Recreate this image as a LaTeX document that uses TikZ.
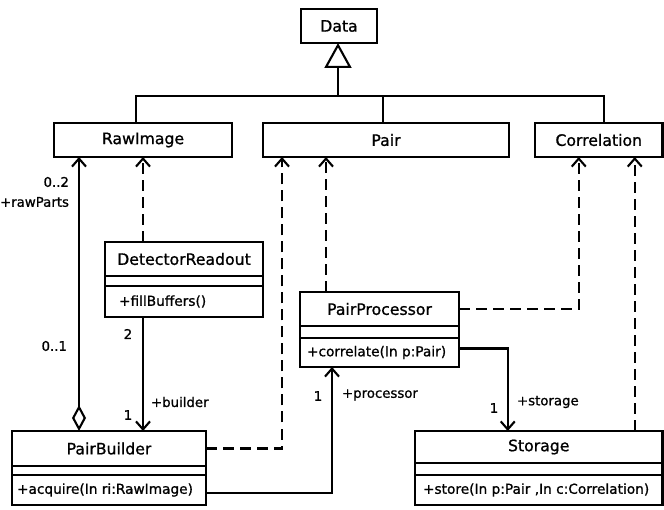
\documentclass[tikz,border=0pt]{standalone}
\usepackage{fontspec}
\setmainfont{DejaVu Sans}[BoldFont={DejaVu Sans}, BoldFeatures={FakeBold=1}]
\usetikzlibrary{arrows.meta}
\begin{document}
\begin{tikzpicture}[x=1pt,y=-1pt, line width=2.1pt,
  box/.style={draw, rectangle, inner sep=0pt, outer sep=0pt},
  nm/.style={box, font=\fontsize{15.7}{18}\selectfont\bfseries},
  meth/.style={inner sep=0pt, anchor=west, font=\fontsize{13.7}{16}\selectfont\bfseries},
  lbl/.style={inner sep=0pt, font=\fontsize{13.3}{15}\selectfont\bfseries},
  barb/.tip={Straight Barb[length=8pt,width=14pt]},
  dep/.style={dash pattern=on 11pt off 6pt, -barb},
  assoc/.style={-barb},
]
\useasboundingbox (0,0) rectangle (664,510);

% classes
\node[nm, minimum width=76pt, minimum height=34pt] (data) at (339,26) {Data};
\node[nm, minimum width=178pt, minimum height=34pt] (raw) at (143,140) {RawImage};
\node[nm, minimum width=246pt, minimum height=34pt] (pair) at (386,140) {Pair};
\node[nm, minimum width=127.5pt, minimum height=34pt] (corr) at (598.75,140) {Correlation};

\node[nm, minimum width=158pt, minimum height=34pt] (drN) at (184,259) {DetectorReadout};
\node[box, minimum width=158pt, minimum height=10pt, anchor=north] (drA) at (drN.south) {};
\node[box, minimum width=158pt, minimum height=31pt, anchor=north] (drM) at (drA.south) {};
\node[meth] (drT) at ([xshift=13pt]drM.west) {+fillBuffers()};

\node[nm, minimum width=159pt, minimum height=34pt] (ppN) at (379.5,309) {PairProcessor};
\node[box, minimum width=159pt, minimum height=12pt, anchor=north] (ppA) at (ppN.south) {};
\node[box, minimum width=159pt, minimum height=29pt, anchor=north] (ppM) at (ppA.south) {};
\node[meth] (ppT) at ([xshift=6pt]ppM.west) {+correlate(In p:Pair)};

\node[nm, minimum width=194pt, minimum height=35pt] (pbN) at (109,448.5) {PairBuilder};
\node[box, minimum width=194pt, minimum height=9pt, anchor=north] (pbA) at (pbN.south) {};
\node[box, minimum width=194pt, minimum height=30pt, anchor=north] (pbM) at (pbA.south) {};
\node[meth] (pbT) at ([xshift=4pt]pbM.west) {+acquire(In ri:RawImage)};

\node[nm, minimum width=247.5pt, minimum height=32pt] (stN) at (538.75,447) {Storage};
\node[box, minimum width=247.5pt, minimum height=12pt, anchor=north] (stA) at (stN.south) {};
\node[box, minimum width=247.5pt, minimum height=30pt, anchor=north] (stM) at (stA.south) {};
\node[meth] (stT) at ([xshift=7pt]stM.west) {+store(In p:Pair ,In c:Correlation)};

% generalization
\coordinate (gj) at (338,96);
\draw[-{Triangle[open,length=25pt,width=27pt]}] (gj) -- (gj |- data.south);
\draw ([xshift=-7pt]raw.north) -- ([xshift=-7pt]raw.north |- gj) -- ([xshift=5pt]corr.north |- gj) -- ([xshift=5pt]corr.north);
\draw ([xshift=-3pt]pair.north) -- ([xshift=-3pt]pair.north |- gj);

% aggregation
\draw[{Diamond[open,length=26pt,width=14pt]}-barb] ([xshift=-30pt]pbN.north) -- ([xshift=-30pt]pbN.north |- raw.south);
\node[lbl, anchor=east] (l02) at (70,182) {0..2};
\node[lbl, anchor=east] (lrp) at (70,202) {+rawParts};
\node[lbl, anchor=east] (l01) at (68,346) {0..1};

% detector readout
\draw[dep] (raw.south |- drN.north) -- (raw.south);
\draw[assoc] (raw.south |- drM.south) -- (raw.south |- pbN.north);
\node[lbl] (l2) at (128,334) {2};
\node[lbl] (l1a) at (128,415) {1};
\node[lbl, anchor=west] (lbu) at (150,402) {+builder};

% dependencies to Pair
\draw[dep] (pbN.east) -| ([xshift=-104pt]pair.south);
\draw[dep] ([xshift=-53.5pt]ppN.north) -- ([xshift=-53.5pt]ppN.north |- pair.south);

% dependencies to Correlation
\draw[dep] (ppN.east) -| ([xshift=-20pt]corr.south);
\draw[dep] ([xshift=96pt]stN.north) -- ([xshift=96pt]stN.north |- corr.south);

% associations
\draw[assoc] ([yshift=4pt]ppM.east) -| ([xshift=-31pt]stN.north);
\node[lbl] (l1c) at (494,408) {1};
\node[lbl, anchor=west] (lst) at (516,402) {+storage};

\draw[assoc] ([yshift=-3pt]pbM.east) -| ([xshift=-47.5pt]ppM.south);
\node[lbl] (l1b) at (318,396) {1};
\node[lbl, anchor=west] (lpr) at (341,395) {+processor};
\end{tikzpicture}
\end{document}
